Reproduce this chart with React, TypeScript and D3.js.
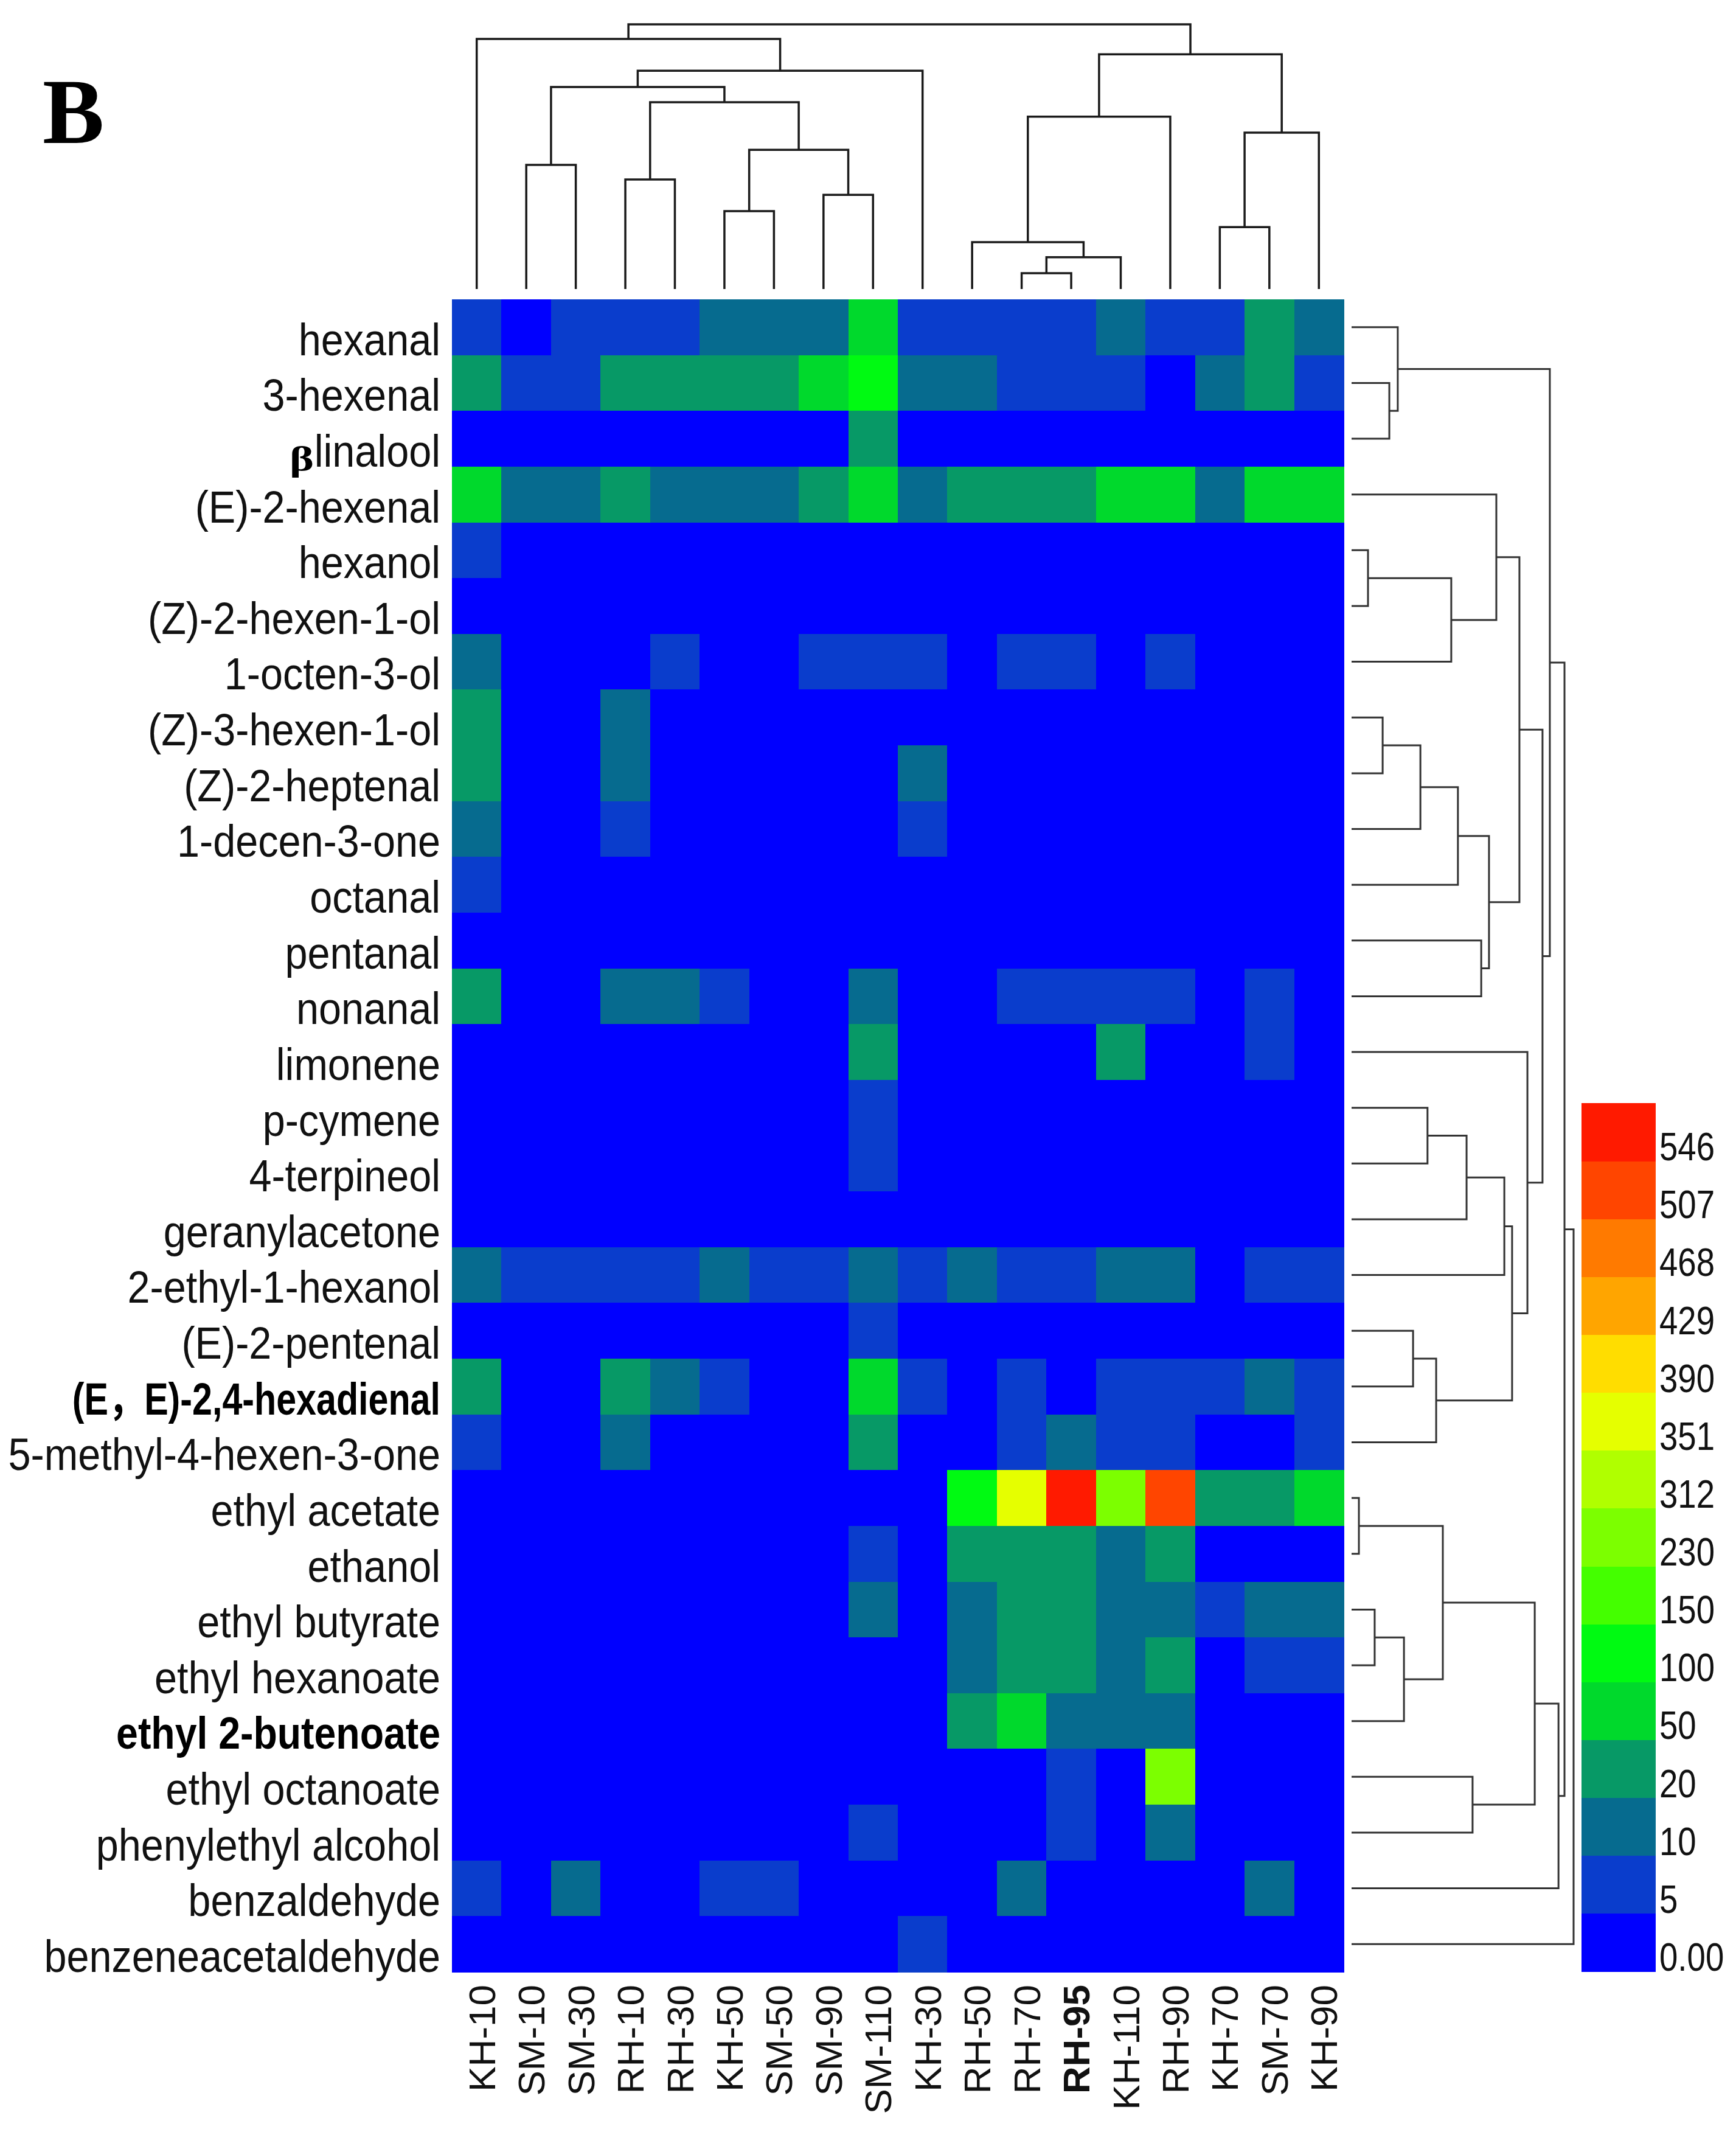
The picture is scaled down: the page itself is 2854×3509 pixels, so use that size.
import React from 'react';
import * as d3 from 'd3';

const W = 2854;
const H = 3509;

const samples = ['KH-10', 'SM-10', 'SM-30', 'RH-10', 'RH-30', 'KH-50', 'SM-50', 'SM-90', 'SM-110',
  'KH-30', 'RH-50', 'RH-70', 'RH-95', 'KH-110', 'RH-90', 'KH-70', 'SM-70', 'KH-90'];
const boldSamples = ['RH-95'];

const compounds = ['hexanal', '3-hexenal', 'β-linalool', '(E)-2-hexenal', 'hexanol', '(Z)-2-hexen-1-ol',
  '1-octen-3-ol', '(Z)-3-hexen-1-ol', '(Z)-2-heptenal', '1-decen-3-one', 'octanal', 'pentanal', 'nonanal',
  'limonene', 'p-cymene', '4-terpineol', 'geranylacetone', '2-ethyl-1-hexanol', '(E)-2-pentenal',
  '(E，E)-2,4-hexadienal', '5-methyl-4-hexen-3-one', 'ethyl acetate', 'ethanol', 'ethyl butyrate',
  'ethyl hexanoate', 'ethyl 2-butenoate', 'ethyl octanoate', 'phenylethyl alcohol', 'benzaldehyde',
  'benzeneacetaldehyde'];
const boldCompounds = ['(E，E)-2,4-hexadienal', 'ethyl 2-butenoate'];

// one row per compound, columns in the order of `samples`
const values: number[][] = [
  [7, 0, 7, 7, 7, 15, 15, 15, 75, 7, 7, 7, 7, 15, 7, 7, 35, 15],
  [35, 7, 7, 35, 35, 35, 35, 75, 120, 15, 15, 7, 7, 7, 0, 15, 35, 7],
  [0, 0, 0, 0, 0, 0, 0, 0, 35, 0, 0, 0, 0, 0, 0, 0, 0, 0],
  [75, 15, 15, 35, 15, 15, 15, 35, 75, 15, 35, 35, 35, 75, 75, 15, 75, 75],
  [7, 0, 0, 0, 0, 0, 0, 0, 0, 0, 0, 0, 0, 0, 0, 0, 0, 0],
  [0, 0, 0, 0, 0, 0, 0, 0, 0, 0, 0, 0, 0, 0, 0, 0, 0, 0],
  [15, 0, 0, 0, 7, 0, 0, 7, 7, 7, 0, 7, 7, 0, 7, 0, 0, 0],
  [35, 0, 0, 15, 0, 0, 0, 0, 0, 0, 0, 0, 0, 0, 0, 0, 0, 0],
  [35, 0, 0, 15, 0, 0, 0, 0, 0, 15, 0, 0, 0, 0, 0, 0, 0, 0],
  [15, 0, 0, 7, 0, 0, 0, 0, 0, 7, 0, 0, 0, 0, 0, 0, 0, 0],
  [7, 0, 0, 0, 0, 0, 0, 0, 0, 0, 0, 0, 0, 0, 0, 0, 0, 0],
  [0, 0, 0, 0, 0, 0, 0, 0, 0, 0, 0, 0, 0, 0, 0, 0, 0, 0],
  [35, 0, 0, 15, 15, 7, 0, 0, 15, 0, 0, 7, 7, 7, 7, 0, 7, 0],
  [0, 0, 0, 0, 0, 0, 0, 0, 35, 0, 0, 0, 0, 35, 0, 0, 7, 0],
  [0, 0, 0, 0, 0, 0, 0, 0, 7, 0, 0, 0, 0, 0, 0, 0, 0, 0],
  [0, 0, 0, 0, 0, 0, 0, 0, 7, 0, 0, 0, 0, 0, 0, 0, 0, 0],
  [0, 0, 0, 0, 0, 0, 0, 0, 0, 0, 0, 0, 0, 0, 0, 0, 0, 0],
  [15, 7, 7, 7, 7, 15, 7, 7, 15, 7, 15, 7, 7, 15, 15, 0, 7, 7],
  [0, 0, 0, 0, 0, 0, 0, 0, 7, 0, 0, 0, 0, 0, 0, 0, 0, 0],
  [35, 0, 0, 35, 15, 7, 0, 0, 75, 7, 0, 7, 0, 7, 7, 7, 15, 7],
  [7, 0, 0, 15, 0, 0, 0, 0, 35, 0, 0, 7, 15, 7, 7, 0, 0, 7],
  [0, 0, 0, 0, 0, 0, 0, 0, 0, 0, 120, 370, 550, 270, 520, 35, 35, 75],
  [0, 0, 0, 0, 0, 0, 0, 0, 7, 0, 35, 35, 35, 15, 35, 0, 0, 0],
  [0, 0, 0, 0, 0, 0, 0, 0, 15, 0, 15, 35, 35, 15, 15, 7, 15, 15],
  [0, 0, 0, 0, 0, 0, 0, 0, 0, 0, 15, 35, 35, 15, 35, 0, 7, 7],
  [0, 0, 0, 0, 0, 0, 0, 0, 0, 0, 35, 75, 15, 15, 15, 0, 0, 0],
  [0, 0, 0, 0, 0, 0, 0, 0, 0, 0, 0, 0, 7, 0, 270, 0, 0, 0],
  [0, 0, 0, 0, 0, 0, 0, 0, 7, 0, 0, 0, 7, 0, 15, 0, 0, 0],
  [7, 0, 15, 0, 0, 7, 7, 0, 0, 0, 0, 15, 0, 0, 0, 0, 15, 0],
  [0, 0, 0, 0, 0, 0, 0, 0, 0, 7, 0, 0, 0, 0, 0, 0, 0, 0],
];

const legendBreaks = [5, 10, 20, 50, 100, 150, 230, 312, 351, 390, 429, 468, 507, 546];
const legendLabels = ['0.00', '5', '10', '20', '50', '100', '150', '230', '312', '351', '390', '429', '468', '507', '546'];
const legendColors = ['#0000ff', '#0a3dcc', '#066b8f', '#079966', '#00d92c', '#00fa12', '#44ff00', '#7cff00',
  '#b0ff00', '#e5ff00', '#ffdd00', '#ffa500', '#ff7a00', '#ff4500', '#ff1a00'];

// linkage: [left, right, distance]; ids >= leaf count refer to earlier merges
const sampleTree: [number, number, number][] = [
  [1, 2, 0.469], [3, 4, 0.414], [5, 6, 0.294], [7, 8, 0.356], [20, 21, 0.526], [19, 22, 0.706],
  [18, 23, 0.763], [24, 9, 0.825], [0, 25, 0.945], [11, 12, 0.06], [27, 13, 0.12], [10, 28, 0.177],
  [29, 14, 0.651], [15, 16, 0.234], [31, 17, 0.591], [30, 32, 0.887], [26, 33, 1.0],
];
const compoundTree: [number, number, number][] = [
  [1, 2, 0.17], [0, 30, 0.208], [4, 5, 0.074], [32, 6, 0.449], [3, 33, 0.652], [7, 8, 0.14],
  [35, 9, 0.31], [36, 10, 0.479], [11, 12, 0.584], [37, 38, 0.619], [34, 39, 0.756], [14, 15, 0.342],
  [41, 16, 0.518], [42, 17, 0.688], [18, 19, 0.277], [44, 20, 0.381], [43, 45, 0.723], [13, 46, 0.792],
  [40, 47, 0.86], [31, 48, 0.893], [21, 22, 0.033], [23, 24, 0.104], [51, 25, 0.236], [50, 52, 0.411],
  [26, 27, 0.545], [53, 54, 0.825], [55, 28, 0.932], [49, 56, 0.959], [57, 29, 1.0],
];

const grid = { left: 743, right: 2209, top: 492, bottom: 3241 };
const x = d3.scaleBand<string>().domain(samples).range([grid.left, grid.right]);
const y = d3.scaleBand<string>().domain(compounds).range([grid.top, grid.bottom]);
const color = d3.scaleThreshold<number, string>().domain(legendBreaks).range(legendColors);

const topDist = d3.scaleLinear().domain([0, 1]).range([475, 40]);
const rightDist = d3.scaleLinear().domain([0, 1]).range([2222, 2587]);

const legendY = d3.scaleBand<string>().domain(legendLabels.slice().reverse()).range([1813, 3240]);

function linkage(n: number, merges: [number, number, number][], leafPos: (i: number) => number) {
  const pos: number[] = [];
  const dist: number[] = [];
  for (let i = 0; i < n; i++) { pos[i] = leafPos(i); dist[i] = 0; }
  return merges.map(([a, b, d], k) => {
    pos[n + k] = (pos[a] + pos[b]) / 2;
    dist[n + k] = d;
    return { pa: pos[a], pb: pos[b], da: dist[a], db: dist[b], d };
  });
}

const sans = '"Liberation Sans", Arial, "Noto Sans CJK SC", sans-serif';
const serif = '"Liberation Serif", "Times New Roman", serif';

// horizontal squeeze of the row labels
function labelScale(c: string) {
  if (c.includes('，')) return 0.8;
  if (boldCompounds.includes(c)) return 0.87;
  return 0.9;
}

export default function App() {
  const topLinks = linkage(samples.length, sampleTree, i => x(samples[i])! + x.bandwidth() / 2);
  const rightLinks = linkage(compounds.length, compoundTree, i => y(compounds[i])! + y.bandwidth() / 2);

  return (
    <svg width={W} height={H} style={{ position: 'absolute', left: 0, top: 0, background: '#fff' }}>
      <text x={70} y={235} fontFamily={serif} fontWeight="bold" fontSize={152}>B</text>

      <g fill="none" stroke="#1a1a1a" strokeWidth={3.5}>
        {topLinks.map((l, i) => (
          <path key={i} d={`M${l.pa},${topDist(l.da)}V${topDist(l.d)}H${l.pb}V${topDist(l.db)}`} />
        ))}
      </g>
      <g fill="none" stroke="#333" strokeWidth={3}>
        {rightLinks.map((l, i) => (
          <path key={i} d={`M${rightDist(l.da)},${l.pa}H${rightDist(l.d)}V${l.pb}H${rightDist(l.db)}`} />
        ))}
      </g>

      <g shapeRendering="crispEdges">
        {compounds.map((c, r) => samples.map((s, k) => (
          <rect key={c + s} x={x(s)} y={y(c)} width={x.bandwidth() + 0.5} height={y.bandwidth() + 0.5}
            fill={color(values[r][k])} />
        )))}
      </g>

      <g fontFamily={sans} fontSize={74} fill="#111">
        {compounds.map(c => {
          const by = y(c)! + y.bandwidth();
          const bold = boldCompounds.includes(c);
          if (c.startsWith('β')) {
            return (
              <g key={c}>
                <g transform={`translate(724,${by}) scale(0.9,1)`}>
                  <text textAnchor="end">{c.split('-')[1]}</text>
                </g>
                <g transform={`translate(516,${by + 6}) scale(0.95,0.72)`}>
                  <text textAnchor="end" fontFamily={serif} fontWeight="bold" fontSize={80} fill="#000">β</text>
                </g>
              </g>
            );
          }
          return (
            <g key={c} transform={`translate(724,${by}) scale(${labelScale(c)},1)`}>
              <text textAnchor="end" fontWeight={bold ? 'bold' : 'normal'} fill={bold ? '#000' : '#111'}>{c}</text>
            </g>
          );
        })}
      </g>

      <g fontFamily={sans} fontSize={62} fill="#111">
        {samples.map(s => (
          <text key={s} textAnchor="end" fontWeight={boldSamples.includes(s) ? 'bold' : 'normal'}
            transform={`translate(${x(s)! + x.bandwidth() / 2 + 30},3262) rotate(-90)`}>{s}</text>
        ))}
      </g>

      <g shapeRendering="crispEdges">
        {legendLabels.map((lab, i) => (
          <rect key={lab} x={2600} y={legendY(lab)} width={122} height={legendY.bandwidth() + 0.5} fill={legendColors[i]} />
        ))}
      </g>
      <g fontFamily={sans} fontSize={65} fill="#111">
        {legendLabels.map(lab => (
          <g key={lab} transform={`translate(2728,${legendY(lab)! + legendY.bandwidth() - 1}) scale(0.84,1)`}>
            <text>{lab}</text>
          </g>
        ))}
      </g>
    </svg>
  );
}
